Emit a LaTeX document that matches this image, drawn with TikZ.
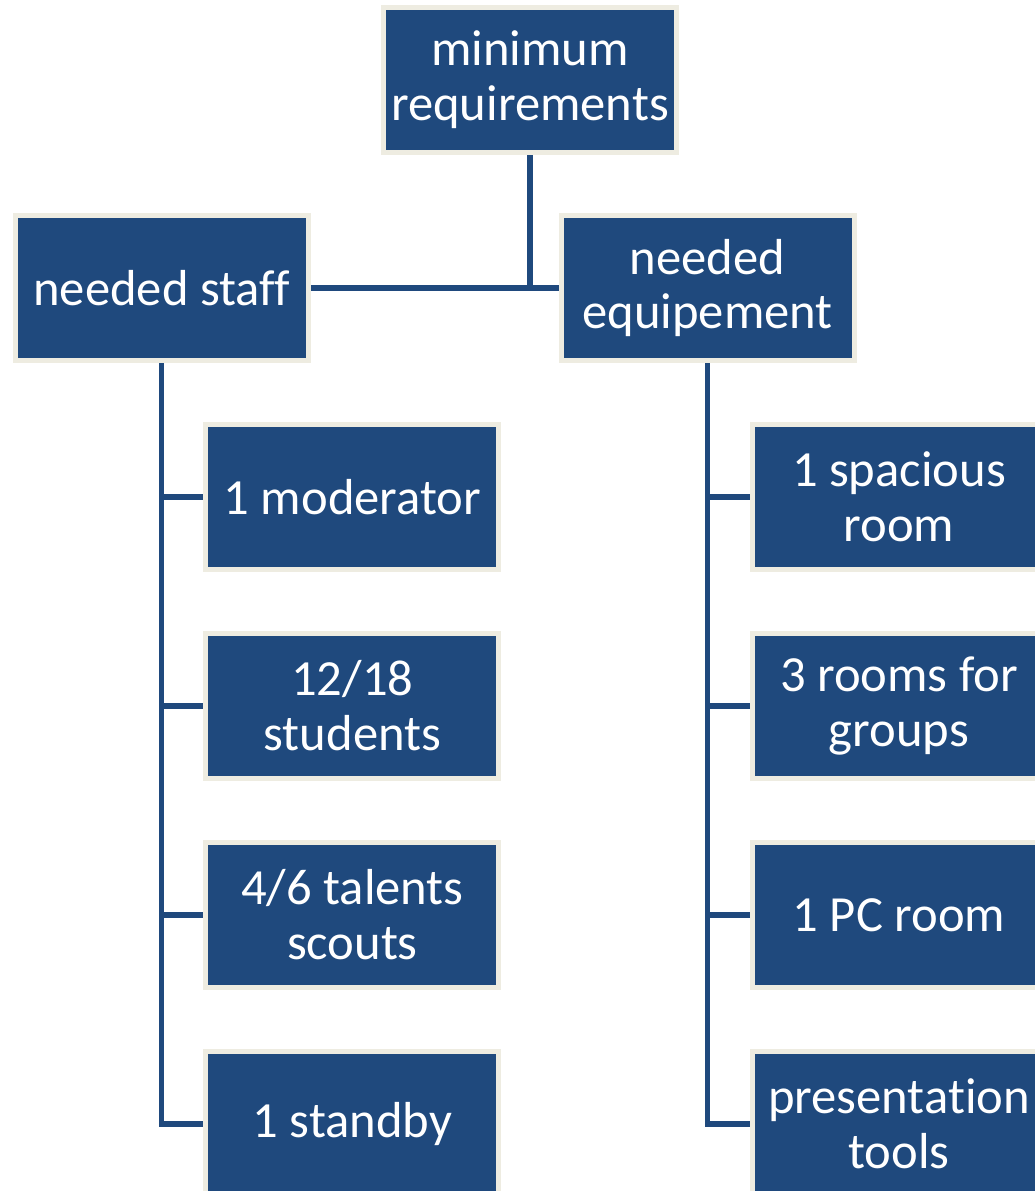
\documentclass[tikz,border=0pt]{standalone}
\usepackage{fontspec}
\setmainfont{Carlito}[Ligatures=NoCommon]
\usetikzlibrary{backgrounds}
\definecolor{boxBlue}{HTML}{1F497D}
\definecolor{boxRim} {HTML}{EEECE1}
\definecolor{linkBlue}{HTML}{1F497D}

\begin{document}
\begin{tikzpicture}[
  font=\fontsize{36}{39}\selectfont,
  box/.style={draw=boxRim,fill=boxBlue,text=white,line width=0.125cm,
              align=center,inner sep=2pt,minimum width=7.325cm,minimum height=3.625cm},
  link/.style={draw=linkBlue,line width=0.13cm},
]
\useasboundingbox (0,0) rectangle (25.875,-29.775);

% ---- top and second level ---------------------------------------------------
\node[box] (minreq) at (13.25,-2.0)  {minimum\\requirements};
\node[box] (staff)  at (4.04,-7.2)   {needed staff};
\node[box] (equip)  at (17.69,-7.2)  {needed\\equipement};

% ---- staff column -------------------------------------------------------------
\node[box] (moder)  at (8.81,-12.425) {1 moderator};
\node[box] (studs)  at (8.81,-17.65)  {12/18\\students};
\node[box] (scouts) at (8.81,-22.875) {4/6 talents\\scouts};
\node[box] (standby) at (8.81,-28.1)  {1 standby};

% ---- equipment column ---------------------------------------------------------
\node[box] (room)   at (22.475,-12.425) {1 spacious\\room};
\node[box] (groups) at (22.475,-17.65)  {3 rooms for\\groups};
\node[box] (pcroom) at (22.475,-22.875) {1 PC room};
\node[box] (tools)  at (22.475,-28.1)   {presentation\\tools};

% ---- connectors behind the boxes ----------------------------------------------
\begin{scope}[on background layer]
  \draw[link] (minreq.south) -- (minreq.south |- staff.east);
  \draw[link] (staff.east) -- (equip.west);
  % staff spine
  \draw[link] (staff.south) |- (standby.west);
  \draw[link] (staff.south |- moder.west)  -- (moder.west);
  \draw[link] (staff.south |- studs.west)  -- (studs.west);
  \draw[link] (staff.south |- scouts.west) -- (scouts.west);
  % equipment spine
  \draw[link] (equip.south) |- (tools.west);
  \draw[link] (equip.south |- room.west)   -- (room.west);
  \draw[link] (equip.south |- groups.west) -- (groups.west);
  \draw[link] (equip.south |- pcroom.west) -- (pcroom.west);
\end{scope}

\end{tikzpicture}
\end{document}
